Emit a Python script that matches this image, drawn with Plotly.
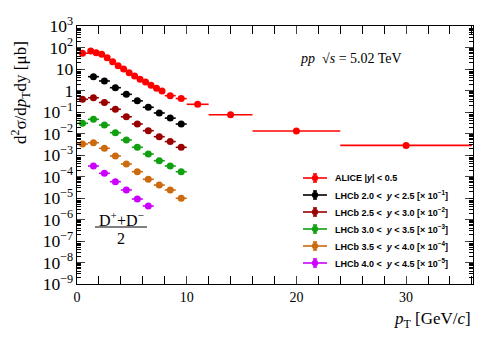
import plotly.graph_objects as go

# ---- data ----
alice_pt = [0.5, 1.25, 1.75, 2.25, 2.75, 3.25, 3.75, 4.25, 4.75, 5.25, 5.75,
            6.25, 6.75, 7.25, 7.75, 8.5, 9.5, 11, 14, 20, 30]
alice_dpt = [0.5, 0.25, 0.25, 0.25, 0.25, 0.25, 0.25, 0.25, 0.25, 0.25, 0.25,
             0.25, 0.25, 0.25, 0.25, 0.5, 0.5, 1, 2, 4, 6]
alice_y = [54, 69, 57, 48, 33.6, 21.9, 14.2, 10, 6.7, 4.7, 3.3,
           2.5, 1.74, 1.26, 0.95, 0.575, 0.42, 0.228, 0.075, 0.013, 0.0028]

lhcb1_pt = [1.5, 2.5, 3.5, 4.5, 5.5, 6.5, 7.5, 8.5, 9.5]
lhcb1_y = [4.4, 2.77, 1.35, 0.665, 0.33, 0.166, 0.09, 0.052, 0.0275]

lhcb2_pt = [0.5, 1.5, 2.5, 3.5, 4.5, 5.5, 6.5, 7.5, 8.5, 9.5]
lhcb2_y = [0.39, 0.46, 0.277, 0.134, 0.060, 0.0277, 0.0135, 0.0071, 0.0042, 0.00228]

lhcb3_pt = [0.5, 1.5, 2.5, 3.5, 4.5, 5.5, 6.5, 7.5, 8.5, 9.5]
lhcb3_y = [0.0298, 0.0457, 0.0248, 0.0109, 0.0050, 0.00228, 0.00111, 0.000543,
           0.000308, 0.000167]

lhcb4_pt = [0.5, 1.5, 2.5, 3.5, 4.5, 5.5, 6.5, 7.5, 8.5, 9.5]
lhcb4_y = [0.00325, 0.00373, 0.00205, 0.000898, 0.000381, 0.000167, 7.4e-5,
           4.0e-5, 2.36e-5, 9.7e-6]

lhcb5_pt = [1.5, 2.5, 3.5, 4.5, 5.5, 6.5]
lhcb5_y = [3.08e-4, 1.41e-4, 5.73e-5, 2.36e-5, 8.97e-6, 4.26e-6]

lhcb_dpt = 0.5  # LHCb bins are 1 GeV/c wide

series = [
    ("ALICE |<i>y</i>| &lt; 0.5", alice_pt, alice_y, alice_dpt, "#ff0000"),
    ("LHCb 2.0 &lt;  <i>y</i> &lt; 2.5 [× 10<sup>−1</sup>]", lhcb1_pt, lhcb1_y, None, "#000000"),
    ("LHCb 2.5 &lt;  <i>y</i> &lt; 3.0 [× 10<sup>−2</sup>]", lhcb2_pt, lhcb2_y, None, "#990000"),
    ("LHCb 3.0 &lt;  <i>y</i> &lt; 3.5 [× 10<sup>−3</sup>]", lhcb3_pt, lhcb3_y, None, "#10a010"),
    ("LHCb 3.5 &lt;  <i>y</i> &lt; 4.0 [× 10<sup>−4</sup>]", lhcb4_pt, lhcb4_y, None, "#cc6a10"),
    ("LHCb 4.0 &lt;  <i>y</i> &lt; 4.5 [× 10<sup>−5</sup>]", lhcb5_pt, lhcb5_y, None, "#cc00ff"),
]

# minor log ticks 2..9 per decade
minor_vals = [m * 10.0 ** e for e in range(-9, 3) for m in range(2, 10)]

# page body has an 8px margin -> shrink figure so it fits the window
OFF = 8
W, H = 498 - OFF, 339 - OFF
L, R, T, B = 77, 473, 26, 284   # plot frame in window pixels
SERIF = "Liberation Serif, Times New Roman, serif"
SANS = "Liberation Sans, Arial, sans-serif"


def px(x, y):
    # window pixel position -> paper coords
    return (x - L) / (R - L), (B - y) / (B - T)


fig = go.Figure()
for name, xs, ys, dx, col in series:
    fig.add_trace(go.Scatter(
        x=xs, y=ys, mode="markers", name=name,
        marker=dict(color=col, size=7, symbol="circle"),
        error_x=dict(type="data", array=dx if dx else [lhcb_dpt] * len(xs),
                     color=col, thickness=1.6, width=0),
        showlegend=False,
    ))

shapes = []
annotations = []

# hand-made legend (ROOT style)
rows = [178, 195, 212, 229, 246, 263]
for (name, xs, ys, dx, col), ry in zip(series, rows):
    x0, y0 = px(303, ry)
    x1, _ = px(327, ry)
    xm, _ = px(315, ry)
    _, yt = px(0, ry - 4)
    _, yb = px(0, ry + 4)
    xc0, _ = px(313, ry)
    xc1, _ = px(317, ry)
    shapes.append(dict(type="line", xref="paper", yref="paper", x0=x0, x1=x1, y0=y0, y1=y0,
                       line=dict(color=col, width=1.6)))
    shapes.append(dict(type="line", xref="paper", yref="paper", x0=xm, x1=xm, y0=yb, y1=yt,
                       line=dict(color=col, width=1.6)))
    for yy in (yt, yb):
        shapes.append(dict(type="line", xref="paper", yref="paper", x0=xc0, x1=xc1, y0=yy, y1=yy,
                           line=dict(color=col, width=1.6)))
    cx0, cy0 = px(312, ry + 3)
    cx1, cy1 = px(318, ry - 3)
    shapes.append(dict(type="circle", xref="paper", yref="paper", x0=cx0, x1=cx1, y0=cy0, y1=cy1,
                       fillcolor=col, line=dict(color=col, width=0.5)))
    tx, ty = px(333, ry)
    annotations.append(dict(xref="paper", yref="paper", x=tx, y=ty, xanchor="left", yanchor="middle",
                            text="<b>" + name + "</b>", showarrow=False,
                            font=dict(family=SANS, size=9, color="black")))

# axis titles
ax, ay = px(20, 92)
annotations.append(dict(xref="paper", yref="paper", x=ax, y=ay, xanchor="center", yanchor="middle",
                        text="d<sup>2</sup>σ/d<i>p</i><sub>T</sub>dy [μb]", textangle=-90,
                        showarrow=False, font=dict(family=SERIF, size=17, color="black")))
bx, by = px(473, 320)
annotations.append(dict(xref="paper", yref="paper", x=bx, y=by, xanchor="right", yanchor="middle",
                        text="<i>p</i><sub>T</sub> [GeV/<i>c</i>]",
                        showarrow=False, font=dict(family=SERIF, size=17, color="black")))

# energy label
ex, ey = px(298, 58)
annotations.append(dict(xref="paper", yref="paper", x=ex, y=ey, xanchor="left", yanchor="middle",
                        text="<i>pp</i>  √<i>s</i> = 5.02 TeV",
                        showarrow=False, font=dict(family=SERIF, size=14, color="black")))

# (D+ + D-)/2
fx, fy = px(121, 219)
annotations.append(dict(xref="paper", yref="paper", x=fx, y=fy, xanchor="center", yanchor="middle",
                        text="D<sup>+</sup>+D<sup>−</sup>",
                        showarrow=False, font=dict(family=SERIF, size=16, color="black")))
gx, gy = px(121, 238)
annotations.append(dict(xref="paper", yref="paper", x=gx, y=gy, xanchor="center", yanchor="middle",
                        text="2", showarrow=False, font=dict(family=SERIF, size=16, color="black")))
lx0, ly = px(95, 227)
lx1, _ = px(147, 227)
shapes.append(dict(type="line", xref="paper", yref="paper", x0=lx0, x1=lx1, y0=ly, y1=ly,
                   line=dict(color="black", width=1)))

# invisible trace to activate the overlay axis carrying the minor ticks
fig.add_trace(go.Scatter(x=[None], y=[None], yaxis="y2", showlegend=False, hoverinfo="skip"))

fig.update_layout(
    width=W, height=H,
    margin=dict(l=L - OFF, r=498 - R, t=T - OFF, b=339 - B),
    paper_bgcolor="white", plot_bgcolor="white",
    showlegend=False,
    shapes=shapes, annotations=annotations,
    xaxis=dict(range=[0, 36.1], dtick=10, tick0=0, ticks="inside", ticklen=8,
               mirror="allticks", showline=True, linecolor="black", linewidth=1,
               showgrid=False, zeroline=False, automargin=False,
               minor=dict(ticks="inside", dtick=2, ticklen=4, tickcolor="black", showgrid=False),
               tickfont=dict(family=SERIF, size=14, color="black")),
    yaxis=dict(type="log", range=[-9, 3], dtick=1, ticks="inside", ticklen=8,
               exponentformat="power", mirror="allticks", showline=True,
               linecolor="black", linewidth=1, showgrid=False, zeroline=False,
               automargin=False,
               tickfont=dict(family=SERIF, size=14, color="black")),
    yaxis2=dict(type="log", range=[-9, 3], overlaying="y", side="left",
                tickmode="array", tickvals=minor_vals, ticks="inside", ticklen=4,
                tickcolor="black", showticklabels=False, mirror="allticks",
                showline=False, showgrid=False, zeroline=False, automargin=False),
)

fig.write_html("out.html")
